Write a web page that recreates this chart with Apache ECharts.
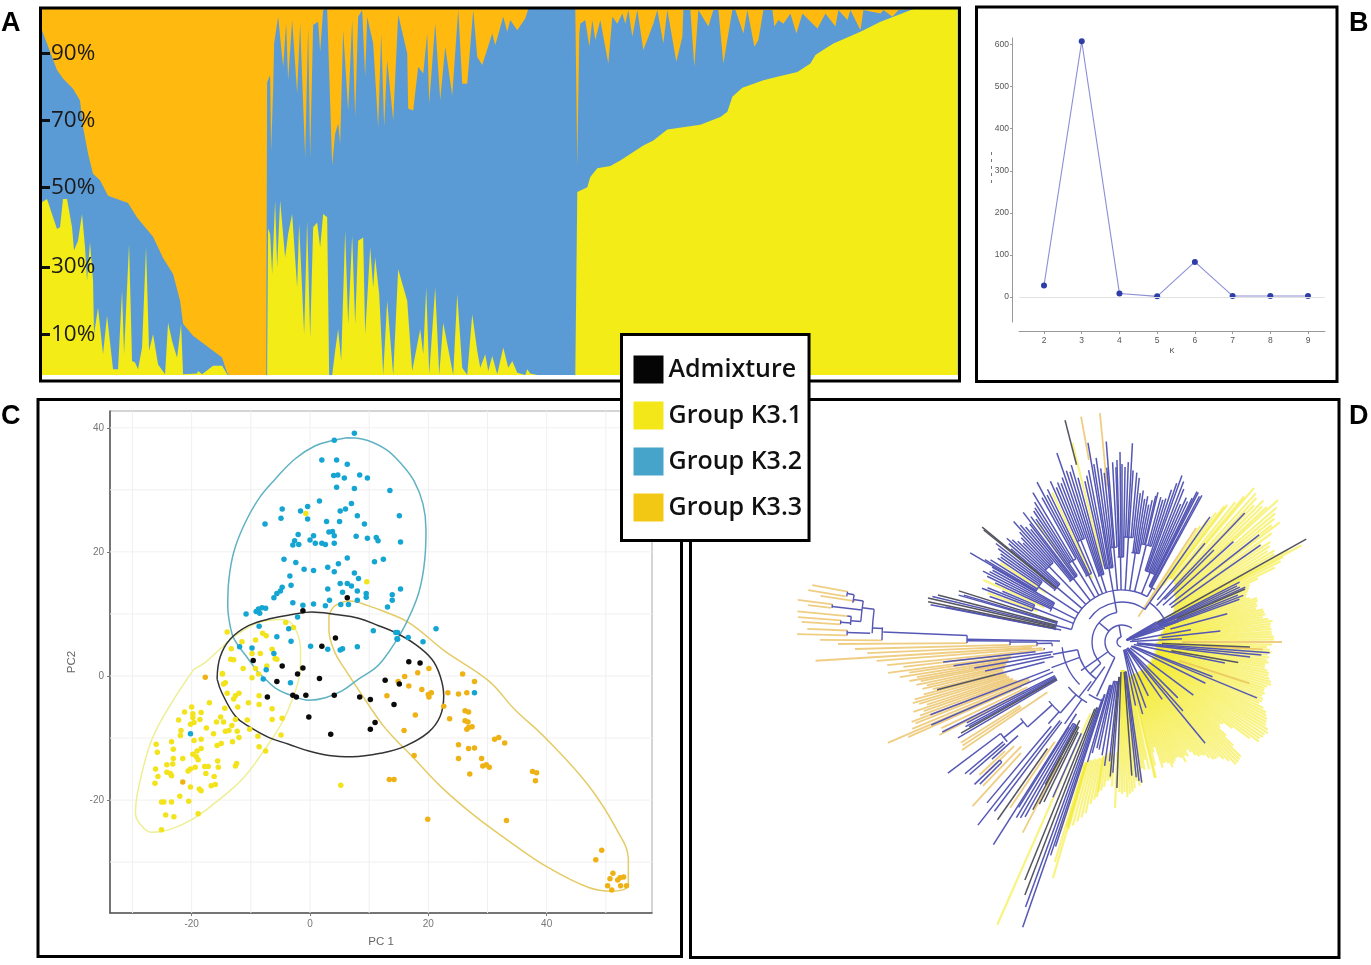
<!DOCTYPE html>
<html><head><meta charset="utf-8">
<style>html,body{margin:0;padding:0;background:#fff}#c{width:1371px;height:965px}</style>
<script src="https://cdn.jsdelivr.net/npm/echarts@6/dist/echarts.min.js"></script>
</head><body><div id="c"></div>
<script>
// ---------- Panel A: admixture proportions (sample rank, cumulative %)
const admixTickValues=[11,29.5,51.3,69.6,87.9];
const admixTickLabels=['10%','30%','50%','70%','90%'];
const k31Top=[[0,47.2],[5,48.1],[10,44],[15,39.9],[18,40.4],[21,48.1],[25,48.1],[30,40.4],[32,34],[36,36.7],[40,44],[43,34.9],[45,25.8],[48,36.3],[51,25.8],[52,11.1],[56,18.4],[61,5.7],[65,16.2],[71,1.6],[76,1.6],[80,23],[82,5.7],[87,35.8],[90,3.8],[93,3.4],[96,1.6],[100,7.5],[104,34.9],[107,6.6],[111,11.1],[116,2.9],[123,0.2],[126,14.3],[130,9.3],[135,4.7],[139,13.9],[141,0.2],[155,0.4],[156,1.1],[160,0.2],[171,2.5],[180,2.5],[185,0.2],[188,0],[225,0],[226,40],[228,38.5],[230,27.6],[233,47.7],[235,29.4],[238,47.7],[243,32.1],[246,38.5],[250,44],[255,23.9],[257,41.3],[262,11.1],[265,42.2],[268,10.2],[271,40.4],[275,41.7],[278,34.9],[281,44],[285,43.1],[287,0],[290,0],[293,6.6],[296,12.5],[299,3.8],[303,39.5],[306,13.9],[310,38.1],[313,13.9],[316,36.7],[321,37.6],[323,11.1],[328,34.9],[331,23.9],[333,32.1],[337,22.1],[341,0],[345,20.3],[351,0],[356,28.9],[365,20.3],[370,1.1],[378,12.5],[381,5.7],[384,23.9],[387,0.2],[393,23.9],[397,0],[401,14.3],[411,0],[415,22.1],[420,2],[425,0],[430,16.6],[435,6.6],[438,2],[443,5.7],[446,1.1],[450,5.2],[455,0.2],[461,7.5],[466,2],[470,3.8],[475,0.6],[483,0],[485,1.6],[488,0.4],[495,0],[533,0],[534,0],[535,50],[545,51.3],[548,54.1],[555,56.5],[568,57.1],[578,58.6],[591,60.9],[601,62.7],[611,64.1],[625,67.1],[658,68.4],[678,70.5],[685,71.9],[690,76],[700,78.5],[721,80.5],[735,81.5],[755,82.8],[768,85.1],[773,87.4],[783,89.2],[791,90.6],[818,93.8],[838,96.5],[851,97.9],[871,100],[915,100]];
const k32Top=[[0,94.2],[5,90.6],[15,83.3],[21,81],[31,78.2],[38,75],[41,67.8],[46,60.5],[51,55],[58,53.2],[66,49],[86,47],[95,43],[111,37.8],[121,32],[131,27.6],[138,20.3],[141,14],[151,10.7],[171,6.6],[180,4.8],[185,0.6],[188,0],[224,0],[225,80],[228,82],[229,61],[231,78],[232,90.6],[236,97.9],[241,84.2],[244,96],[246,80.5],[250,97],[255,76.9],[258,96],[263,59.5],[266,95.2],[268,59.5],[271,95.6],[276,96.5],[278,88.3],[281,99.7],[285,100],[290,57.3],[293,65.9],[296,68.7],[298,63.2],[301,94.2],[306,72.3],[310,97],[313,70.5],[316,97.9],[320,99.7],[323,81.5],[325,97.9],[331,90.6],[336,67.8],[339,93.3],[342,67.8],[345,86],[351,69.6],[356,98.4],[365,87.9],[366,72.8],[371,72.3],[376,84.2],[381,82.4],[385,93.3],[387,74.2],[393,96.1],[398,75.1],[403,89.7],[410,76.4],[416,99.7],[420,79.6],[425,79.6],[431,99.7],[435,86.9],[440,84.7],[450,93.3],[453,90.1],[461,97.9],[465,93.8],[468,97],[475,94.2],[483,97.4],[486,100],[533,100],[535,56.8],[537,93.3],[538,96],[543,97],[547,89.7],[550,97],[553,91.5],[558,97],[566,85.1],[570,97.9],[575,96],[580,98.8],[583,96],[586,99.7],[590,92.4],[595,99.7],[601,88.8],[611,96],[615,99.7],[621,90.6],[625,99.7],[634,85.6],[640,92.4],[641,99.7],[648,99.7],[652,84.2],[656,99.7],[666,95.2],[671,99.7],[676,99.7],[681,85.1],[686,93.3],[690,99.7],[693,99.7],[701,93.3],[705,99.7],[712,89.7],[716,91.5],[721,99.7],[730,99.7],[732,95.2],[736,97],[741,96],[748,98.8],[754,93.3],[760,98.8],[775,94.7],[783,98.8],[793,95.2],[796,99.7],[805,97],[808,99.7],[818,94.2],[821,99.7],[838,98.8],[841,99.7],[850,97.9],[856,99.7],[871,100],[915,100]];
const k33Top=[[0,100],[915,100]];

// ---------- Panel B: delta K
const kValues=[2,3,4,5,6,7,8,9];
const deltaK=[27,608,8,1,83,2,2,2];
const deltaKTicks=[0,100,200,300,400,500,600];

// ---------- Panel C: PCA
const pcTicksX=[-20,0,20,40];
const pcTicksY=[-20,0,20,40];
const pcGridX=[-30,-20,-10,0,10,20,30,40,50];
const pcGridY=[-30,-20,-10,0,10,20,30,40];
const pcBlue=[[7.5,39.1],[4.1,38],[2,34.8],[4.5,34.8],[6.3,34.1],[4,32.3],[4.7,32.4],[5.8,31.9],[8.4,32.4],[9.7,31.9],[4.5,30.4],[7.5,30.2],[13.5,29.9],[1.6,28.2],[7,27.8],[-4.7,26.9],[-1.6,26.6],[-0.4,27.3],[5.1,26.6],[6,26.9],[8,25.8],[15.1,25.8],[-4.9,25.4],[-0.4,25.3],[2.8,24.9],[5,24.9],[9.2,24.5],[-7.6,24.5],[-2,22.8],[3.2,23.2],[3.8,23.3],[4.1,22.6],[7.8,22.5],[9.7,22.2],[11.2,22.3],[11.5,21.8],[15.3,21.6],[-2.6,21.8],[-1.9,21.2],[-2.9,21.1],[0.6,22.6],[0,21.9],[0.9,21.4],[2,21.4],[2.6,21.2],[4.1,21.4],[-4.4,18.8],[-2.4,18.3],[6.3,19],[4.8,18.1],[3,17.5],[10.9,18.4],[12.4,18.8],[-1,17.2],[0.6,17],[4.1,16.8],[7.5,16.6],[-3.4,16.1],[8.2,15.7],[-3.2,14.6],[5.1,14.9],[6.3,14.9],[7,14.5],[3,14],[15.3,14],[-4.7,14.3],[-5,13.7],[-5.6,13.3],[5.5,13.5],[8,13.7],[9.5,13.3],[13.9,13.1],[-6.1,12.6],[9.5,12.7],[3.3,12.2],[8,12.2],[13.9,12.2],[-2.9,11.8],[0.6,11.6],[-1.2,11.4],[2.6,11.3],[5.2,11.5],[6.5,11.5],[13.1,11.1],[-10.8,10],[-8.7,10.8],[-8.1,11],[-7.5,10.9],[-9.1,10.4],[-8.5,10.1],[-2.1,9.5],[-8.6,8],[-3.6,7.6],[10.7,7.3],[14.5,7],[14.7,6],[-5.6,6.3],[-3.2,5.6],[0.1,4.8],[3,4.3],[5.1,4.2],[5.5,4.4],[8,4.7],[-9.8,4.5],[-11.9,4.7],[-6.1,3.6],[-7.4,1],[-7.9,-0.5],[-3.3,-1.1],[-20.2,-9.3],[14.8,7],[14.8,5.9],[16.6,6.2],[19.1,5.5],[21.3,7.6],[27.8,-2.7]];
const pcBlack=[[6.3,12.6],[-1.2,10.5],[4.3,6.1],[2,4.8],[-9.6,2.5],[-4.7,1.6],[-1.2,1.3],[-2.1,0.3],[1.6,-0.4],[-5.6,-0.9],[12.7,-0.7],[15.1,-1.3],[-2.9,-3.1],[-2.3,-3.4],[-0.7,-3.1],[4.1,-3.1],[-7.2,-3.4],[8.4,-3.4],[10.2,-3.8],[14.2,-4.6],[-0.2,-6.6],[11,-7.5],[10.2,-8.6],[3.5,-9.4],[16.7,2.3],[18.6,2.1]];
const pcAmber=[[20.1,1.2],[18.2,0.5],[16,-0.1],[25.8,0.3],[27.8,-0.9],[14.9,-0.9],[16.7,-1.6],[18.9,-2.2],[23.3,-2.7],[25.1,-2.9],[26.5,-2.7],[20,-3],[20.5,-2.7],[20.1,-3.4],[13,-3.2],[22.6,-4.9],[26.2,-5.6],[26.8,-5.8],[17.8,-6.3],[23.6,-6.9],[26.2,-7.2],[26.7,-7.4],[27.4,-8.2],[26.8,-8.3],[26.5,-8.6],[15.9,-8.8],[31.2,-10.2],[31.9,-9.9],[32.9,-10.8],[25.1,-11.1],[26.8,-11.7],[27.8,-11.6],[17.6,-12.8],[25.1,-13.3],[29,-13.3],[29.2,-14.5],[29.8,-14.3],[30.3,-14.7],[27,-15.8],[37.6,-15.4],[38.3,-15.6],[38.1,-16.9],[13.4,-16.7],[14.2,-16.7],[19.9,-23.1],[33.2,-23.3],[49.3,-28.1],[48.3,-29.6],[51.2,-31.8],[50.7,-32.7],[52,-32.9],[52.4,-32.5],[53,-32.4],[50.3,-33.8],[51,-34.5],[52.5,-33.8],[53.5,-33.8],[-17.7,-0.2],[-21.5,-17.1]];
const pcYellow=[[-14.8,0.4],[-14.3,-1.1],[-14.6,-1.3],[-14,-2.8],[-12,-2.8],[-12.6,-3.2],[-12.9,-3.7],[-10.4,-4.3],[-8.6,-3.2],[-8.6,-4.6],[-17,-4.3],[-12.2,-5],[-6.4,-5.3],[-20,-5],[-21.2,-5.8],[-19.8,-6.1],[-18.4,-5.9],[-14.4,-5.2],[-22.2,-7.1],[-19.8,-6.7],[-18.6,-7],[-15.1,-6.6],[-15.8,-7.4],[-14.6,-7.4],[-12.6,-7],[-10.6,-7.1],[-6.4,-7],[-4.7,-6.8],[-20.2,-7.8],[-19.6,-7.5],[-17.5,-8.4],[-13.2,-8],[-13.7,-8.8],[-14.3,-8.9],[-12.3,-8.9],[-10.2,-8.6],[-21.8,-8.8],[-21.9,-9.6],[-16.3,-9.3],[-12,-9.9],[-8.8,-9.7],[-4.9,-9.5],[-26,-11],[-23.4,-10.6],[-19.6,-10.4],[-18.4,-10.2],[-13.1,-10.6],[-15,-10.9],[-15.7,-11.2],[-8.6,-11.4],[-7.5,-12.1],[-25.8,-12.3],[-23.1,-11.8],[-18.4,-11.7],[-19.1,-12.1],[-19.8,-12.6],[-19.2,-13],[-23.1,-13.3],[-21.5,-13.3],[-18.9,-13.5],[-15.6,-13.7],[-12.4,-14.1],[-12.6,-14.5],[-24.2,-14.3],[-23.2,-14.2],[-20.2,-15],[-20.6,-15.3],[-19.4,-14.7],[-17.8,-14.6],[-17.2,-14.6],[-15.5,-14.7],[-26.1,-15],[-24.2,-15.5],[-23.6,-15.7],[-17.6,-15.7],[-25.7,-16.2],[-23.4,-16.1],[-16.2,-16.2],[-26.2,-17.3],[-16,-17.5],[-16.7,-17.7],[-20.2,-17.9],[-18.7,-18.2],[-18.4,-18.5],[-22,-19.4],[-25.1,-20.3],[-24.7,-20.3],[-23.4,-20.3],[-20.5,-20.2],[-24.4,-22.4],[-23,-22.7],[-18.9,-22.2],[-25.1,-24.8],[5.2,-17.6],[-0.7,26.2],[9.6,15.2],[-4.1,8.6],[-2.8,7.8],[-8,6.9],[-7.4,6.5],[-14,7.1],[-11.5,5.5],[-9.2,5.8],[-6.4,4.3],[-13.3,4.4],[-13.4,2.7],[-12.9,2.6],[-9.8,3.6],[-8.4,3.6],[-5.9,2.8],[-5.6,2.7],[-11.3,1.2],[-9.2,1.2],[-7.3,1.6],[-14.8,0.3],[-8.7,0.3],[-9.8,-0.3]];
const ringBlue=[[6.25,38.4],[8.8,38.2],[12.7,36.6],[15.5,34.1],[17.6,31.4],[19.1,27.7],[19.6,23.7],[19.4,18.8],[18.4,13.5],[16.4,8.8],[14.4,5.4],[12.2,2.4],[10.8,1.1],[8.2,-0.5],[5.4,-2.4],[2.6,-3.5],[-0.2,-3.9],[-3,-3.2],[-5.9,-1.9],[-8.1,0],[-8.7,0.5],[-10.4,2.7],[-12.8,5.9],[-13.5,8.1],[-13.9,11.3],[-13.7,15.6],[-12.9,19.9],[-11.2,24.2],[-8.7,28.5],[-5.9,31.7],[-2.5,35],[0.9,37.1],[4.1,38],[6.25,38.4]];
const ringBlack=[[-15.7,-0.5],[-15.2,3],[-13.5,5.9],[-10.4,8.1],[-6.4,9.3],[-3,9.9],[0.3,10.3],[4.3,9.9],[8.2,9.3],[11.6,8.1],[14.4,7],[17.8,5.1],[20.6,2.7],[22,0],[22.6,-3.2],[22,-6.5],[20,-9.1],[16.1,-11.3],[12.2,-12.4],[7.1,-13],[3.2,-12.8],[-0.2,-12.1],[-3.6,-11],[-7,-9.9],[-10.4,-8.1],[-12.6,-6.5],[-14.9,-2.7],[-15.7,-0.5]];
const ringYellow=[[-19.6,1.1],[-17.7,2.2],[-14,5.4],[-12.6,6.5],[-8.7,8.6],[-4.7,9.1],[-2.8,8.1],[-1.6,4.3],[-1.6,2.2],[-1.9,-0.5],[-3,-3.8],[-4.7,-7.5],[-7.6,-11.8],[-11.5,-16.7],[-16,-20.4],[-19.9,-23.1],[-23.9,-24.8],[-26.7,-25.2],[-28.7,-23.9],[-29.5,-22],[-28.9,-17.7],[-26.7,-10.2],[-23.3,-4.2],[-19.6,1.1]];
const ringAmber=[[3.2,9.7],[4.2,11.3],[6.8,12.1],[9.9,11.3],[12.2,10.5],[16.7,8.6],[22.8,4],[30.2,-0.8],[34.6,-5.4],[39.7,-9.9],[47.1,-17.7],[52.1,-25.2],[53.8,-29.6],[53.8,-33.6],[51,-34.7],[47.1,-34.1],[40.3,-30.9],[33.6,-26.6],[27.9,-22.6],[22.3,-18],[17.2,-12.9],[14.4,-10.2],[12.2,-7.8],[9.3,-3.8],[5.9,1.1],[4.2,3.8],[3.2,7.5],[3.2,9.7]];

// ---------- Panel D: tree, branches as [angle, inner radius, outer radius]
const treeYellow=[[1,38,152],[2,36,152],[3,40,150],[4,36,150],[5,38,150],[6,36,149],[7,38,150],[8,40,152],[9,38,148],[10,40,143],[11,40,146],[12,42,145],[13,40,145],[14,44,138],[15,42,140],[16,44,140],[17,44,142],[18,46,142],[19,44,135],[20,48,132],[21,46,134],[22,48,136],[23,48,138],[24,50,140],[25,55,150],[26,55,170],[27,55,178],[27.8,55,182],[28.3,55,204],[29,58,190],[30,60,176],[31,60,178],[32,62,172],[33,62,176],[34,62,179],[35,65,170],[36,65,185],[37.2,65,198],[38,68,190],[39,68,196],[40,70,200],[41,70,205],[42.3,70,211],[43,72,198],[44,72,195],[45,75,200],[46,75,190],[47,78,197],[48,78,200],[49.4,80,203],[50,80,190],[51,80,180],[52.5,80,173],[53,78,170],[54,70,160],[55,60,150],[56,50,140],
[359,36,150],[358,34,145],[357,36,148],[356,34,150],[355,36,146],[354,36,148],[353,34,146],[352,36,148],[351,34,145],[350,36,145],[349,36,148],[348,34,150],[347,36,150],[346,36,152],[345,34,154],[344,36,155],[343,36,152],[342,34,150],[341,36,150],[340,36,152],[339,36,150],[338,36,152],[337,36,152],[336,34,150],[335,36,156],[334,36,160],[333,34,162],[332,36,164],[331,36,165],[330,34,166],[329,36,170],[328,34,172],[327,36,170],[326,36,170],[325,36,168],[324,34,169],[323,36,160],[322,36,140],[321,34,130],[320,36,128],[319,34,130],[318,36,140],[317,36,152],[316,34,165],[315,36,166],[314,36,167],[313,34,167],[312,36,160],[311,34,155],[310,36,150],[309,34,150],[308,36,149],[307,36,145],[306,34,140],[305,36,138],[304,34,138],[303,36,135],[302,34,130],[301,34,126],[300,36,132],[299,34,130],[298,36,136],[297,34,130],[296,36,128],[295,34,128],[294,34,130],[293,36,132],[292,34,135],[291,34,130],[290,36,128],[289,34,128],[288,34,132],[287,36,110],[286,34,115],[285,36,128],[284,36,140],[283.6,36,140],[282,34,130],[281,36,120],[280,34,130],[279,34,128],[278,30,142],[277,30,145],[276,30,140],[275,28,147],[274,28,150],[273,28,152],[272,30,155],[271,28,150],[270,28,152],[269,28,150],
[267.6,110,166],[266,112,145],[265,112,138],[264,110,140],[263,112,146],[262,115,150],[261,115,152],[260.8,116,157],[260,118,160],[259,118,165],[258,120,175],[257,120,180],[256,122,185],[255,122,190],[254,125,195],[253.7,125,246],[253.4,126,193],[253,126,230],[252,128,200],
[246.2,78,309],[104,78,205],[115,70,165],[125.5,80,146],[147,90,145],[155.9,85,152],[160,90,143]];
const treeOrange=[[169.6,279,315],[170.6,280,318],[171.3,270,305],[172.6,292,327],[173.3,293,316],[174.6,276,326],[175.6,282,325],[176.4,282,321],[177.6,275,315],[178.6,275,325],[179.6,240,302],
[180.4,155,284],[181.5,112,267],[182.5,85,255],[183.5,90,307],[184.4,80,246],[185.6,78,236],[186.5,110,220],[187.5,112,236],[188.2,112,215],[189,115,225],[189.7,115,208],[190.4,118,216],[191,118,205],[191.8,120,210],[192.5,120,200],[193.2,122,205],[194,122,195],[194.8,122,205],[195.5,120,215],[196.3,120,218],[197,118,212],[197.8,118,205],[198.5,115,220],[199.2,115,210],[200,112,215],[200.8,110,225],[201.5,100,222],[202.5,100,227],[203.3,100,255],[204,110,234],[205.5,105,200],[207,110,205],[212,120,190],[213,120,190],[214,90,193],
[223,160,195],[224,150,190],[226,145,200],[227.7,150,222],[236,120,200],[242.5,130,215],[100.3,185,229],[95.5,157,230],[57,30,136],[0,60,160],[342,60,134],[357,80,141]];
const treeBlue=[[61.4,62,167],[62,62,165],[63,62,168],[63.5,62,168],[64,62,160],[65,75,155],[66,75,158],[67,75,150],[68,75,165],[69,75,172],[70.2,75,177],[71,75,168],[72,75,160],[73,100,150],[74,100,148],[75,100,150],[76.5,100,154],[77,100,150],[78,100,145],[79,90,140],[80,90,148],[81,90,145],[82,90,153],[83,90,150],[84,105,165],[85,105,170],[86.3,105,172],[87,105,199],[88,105,180],[89,85,175],[90,85,178],[90.6,85,190],[91.6,85,182],[92,85,175],[93,95,180],[94.5,95,201],[95,95,175],[96,95,170],[97,75,175],[98,75,186],[99,75,180],[99.7,75,202],[101,75,175],[102,75,170],[103,75,165],[105,70,170],[106,70,184],[107,70,178],[108,70,180],[109,70,200],[110,110,175],[111,110,170],[112,110,172],[113,110,168],[114,75,176],[116,75,170],[117,75,165],[118,75,181],[119,95,165],[120.8,95,174],[122,95,165],[123,95,160],[124,80,158],[125,80,150],[126,80,155],[127.3,80,163],[128,80,150],[129,80,145],[130,80,150],[131,105,155],[132,105,162],[133,105,150],[134,105,145],[135,105,140],[136,105,145],[137,85,150],[138,85,155],[139,85,150],[140,85,145],[142,85,160],[143,100,155],[144,100,150],[145,100,148],[146,100,150],[148,100,155],[149,100,160],[149.6,100,176],[150,78,150],[151,78,148],[152,78,150],[153,78,156],[154,78,150],[155,78,140],[157,95,130],[158,95,145],[159,95,150],[161,95,140],[164,68,170],[163.5,68,165],[166.5,68,195],[169,68,195],[168.8,62,180],
[61,52,62],[68,52,75],[76,52,100],[81.5,52,90],[86.5,52,105],[91,52,85],[95,52,95],[100,52,75],[107.5,52,70],[112,52,110],[116.5,52,75],[121.5,52,95],[127.5,52,80],[134,52,105],[140,52,85],[146.5,52,100],[153.5,52,78],[159,52,95],[166,52,68],[100,30,52],[140,17,30],[100,5,17],
[35,60,169],[38,60,174],[46.4,50,178],[54.9,40,153],[50,55,129],[45,60,130],[42,55,150],[15,50,109],[6.4,40,99],[27,40,132],[26,45,128],[25,40,130],[24,40,135],[22,40,125],[21,45,130],[20,45,125],[18,5,45],[20,5,60],[22,5,50],[24,5,65],[26,5,60],[28,5,48],[30,8,40],[10,10,70],[3,8,60],
[355.8,15,148],[354.7,15,140],[353.3,15,129],[348.5,12,105],[339,12,97],[337.5,10,146],[333.7,10,93],[323.3,10,89],[315,8,79],[311.5,8,92],[309.4,8,131],[305,8,70],[296,8,60],[290,8,70],[286,8,75],[282,8,65],
[278,30,142],[277,30,140],[276,30,136],[266,35,131],[264,40,120],[262,40,125],[260,40,115],[258,40,110],[256.7,45,109],[255,45,115],[254,45,125],[252,55,215],[251.5,55,225],[250.8,60,302],[250,70,282],[246,100,170],[241,95,200],[240,95,203],[239,95,205],[238,100,195],[237.6,85,240],[233,100,212],[231.8,100,233],[230,110,210],[225,170,201],[224,170,205],[222,140,175],[221,155,202],[220,155,205],[217,152,218],
[186.4,87,180],[188,70,170],[190,72,150],[192,70,140],[194.5,80,130],[200.8,77,205],[203.5,75,208],[206.6,75,201],[208.4,75,178],[207.5,75,175],[209,75,175],[210.3,75,190],
[177.6,155,239],[179,62,155],[179.5,112,155],[180,85,112],[181,70,85],[176.8,240,250],[178,252,275],[172.5,250,262],[171,262,272],[170,272,279],[175.5,262,272],[176,272,282],[174.6,272,276],[173,262,292],[232,50,70],[229,70,94],[222,94,127],[219,127,152],[245,17,60],[235,30,60],[225,30,45],[215,17,50],[200,45,75],[190,45,70],[228,94,110],[235,70,100]];
const treeDark=[[104.4,183,229],[140.6,85,181],[141,85,178],[162.6,68,171],[165.7,68,190],[167.2,68,199],[168.3,68,198],[194.5,130,191],[209.5,75,185],[235,130,217],[244,100,178],[243,95,182],[242,95,190],[241.7,89,162],[249,70,271],[247.8,72,257],[265,35,135],[268,30,146],[274.2,30,134],[357.8,40,128],[350,50,118],[23.3,60,134],[29.2,40,211]];
const treeArcs=[[58,64,62],[64,72,75],[73,79,100],[79,84,90],[84,89,105],[89,93,85],[93,97,95],[97,103,75],[105,110,70],[110,114,110],[114,119,75],[119,124,95],[124,131,80],[131,137,105],[137,143,85],[143,150,100],[150,157,78],[157,161,95],[162,170,68],[61,166,52],[54,145,40],[100,225,30],[55,245,17],[100,260,5],[176.5,179.6,240],[172.5,178,250],[171,175.5,262],[170,171.7,272],[174.6,176.4,272],[175.6,176.4,282],[177.6,178.6,275],[169.6,170.6,279],[172.6,173.3,292],[177.6,180.4,155],[179,181.5,112],[180,182.5,85],[181,183.5,70],[184.4,185.6,78],[190,235,45],[185,225,60],[219,229,94],[217,222,127],[217,221,152],[224,225,170],[25,55,48],[237.6,250.8,62],[239,241,95],[254,256.7,45],[258,264,40],[276,278,30],[220,240,70]];

// ---------- Legend and labels
const legendNames=['Admixture','Group K3.1','Group K3.2','Group K3.3'];
const legendColors=['#050505','#f3e71a','#46a3c9','#f2c814'];
const panelLabels=[['A',1,10],['B',1349,10],['C',1,403],['D',1349,403]];

function leafSeries(data,color,width){
  return {type:'custom',coordinateSystem:'polar',data:data,silent:true,clip:false,
    encode:{angle:0,radius:2},
    renderItem(p,api){
      const a=api.coord([api.value(1),api.value(0)]),b=api.coord([api.value(2),api.value(0)]);
      return {type:'line',shape:{x1:a[0],y1:a[1],x2:b[0],y2:b[1]},style:{stroke:color,lineWidth:width,fill:null}};
    }};
}
function ring(data,color){
  return {type:'line',xAxisIndex:2,yAxisIndex:2,data:data,symbol:'none',smooth:0.4,silent:true,z:3,
    lineStyle:{color:color,width:1.5}};
}
function dots(name,data,color,z){
  return {name:name,type:'scatter',xAxisIndex:2,yAxisIndex:2,data:data,symbolSize:5.5,z:z,silent:true,
    itemStyle:{color:color,opacity:1}};
}
function area(data,color){
  return {type:'line',xAxisIndex:0,yAxisIndex:0,data:data,symbol:'none',silent:true,
    lineStyle:{width:0},areaStyle:{color:color,opacity:1},itemStyle:{color:color}};
}
const pcGridData=pcGridX.map(v=>[v,0,0]).concat(pcGridY.map(v=>[0,v,1]));

const option={
  animation:false,backgroundColor:'#fff',
  textStyle:{fontFamily:'"Liberation Sans",Arial,sans-serif'},
  grid:[
    {left:42,top:9,width:915.5,height:366},
    {left:1019,top:38,width:306,height:284},
    {left:110,top:411,width:542,height:502,show:true,borderColor:'#aaa',borderWidth:1,backgroundColor:'#fff'}
  ],
  xAxis:[
    {gridIndex:0,type:'value',min:0,max:915,show:false},
    {gridIndex:1,type:'value',min:1.337,max:9.45,offset:9,
      axisLine:{show:true,onZero:false,lineStyle:{color:'#999'}},
      axisTick:{show:true,length:3,customValues:kValues,lineStyle:{color:'#999'}},
      axisLabel:{customValues:kValues,color:'#555',fontSize:8.5,margin:5},splitLine:{show:false},
      name:'K',nameLocation:'middle',nameGap:16,nameTextStyle:{color:'#444',fontSize:7.5}},
    {gridIndex:2,type:'value',min:-33.8,max:57.8,
      axisLine:{show:true,onZero:false,lineStyle:{color:'#555',width:1.5}},
      axisTick:{show:true,length:3,customValues:pcTicksX,lineStyle:{color:'#777'}},
      axisLabel:{customValues:pcTicksX,color:'#777',fontSize:10,margin:6},splitLine:{show:false},
      name:'PC 1',nameLocation:'middle',nameGap:23,nameTextStyle:{color:'#666',fontSize:11.5}}
  ],
  yAxis:[
    {gridIndex:0,type:'value',min:0,max:100,z:10,
      axisLine:{show:false},
      axisTick:{show:true,inside:true,length:8,customValues:admixTickValues,lineStyle:{color:'#111',width:3}},
      axisLabel:{inside:true,margin:9,customValues:admixTickValues,color:'#1a1a1a',fontSize:22.5,fontFamily:'"Open Sans",sans-serif',
        formatter:v=>admixTickLabels[admixTickValues.indexOf(v)]||''},
      splitLine:{show:false}},
    {gridIndex:1,type:'value',min:-60,max:616,offset:7,
      axisLine:{show:true,onZero:false,lineStyle:{color:'#999'}},
      axisTick:{show:true,length:2,customValues:deltaKTicks,lineStyle:{color:'#999'}},
      axisLabel:{customValues:deltaKTicks,color:'#555',fontSize:8.5,margin:3},splitLine:{show:false}},
    {gridIndex:2,type:'value',min:-38.2,max:42.7,
      axisLine:{show:true,onZero:false,lineStyle:{color:'#555',width:1.5}},
      axisTick:{show:true,length:3,customValues:pcTicksY,lineStyle:{color:'#777'}},
      axisLabel:{customValues:pcTicksY,color:'#777',fontSize:10,margin:6},splitLine:{show:false},
      name:'PC2',nameLocation:'middle',nameGap:32,nameRotate:90,nameTextStyle:{color:'#666',fontSize:11.5}}
  ],
  polar:{center:[1122,642],radius:340},
  angleAxis:{type:'value',min:0,max:360,startAngle:0,clockwise:false,show:false},
  radiusAxis:{type:'value',min:0,max:340,show:false},
  legend:{orient:'vertical',left:621.5,top:334.5,itemWidth:30,itemHeight:28,itemGap:18,itemTextGap:2,
    padding:[21,7,19,12],z:50,selectedMode:false,icon:'rect',align:'left',
    backgroundColor:'#fff',borderColor:'#000',borderWidth:3,
    textStyle:{fontFamily:'"Open Sans",sans-serif',fontWeight:600,fontSize:25,color:'#111'},
    data:legendNames.map((n,i)=>({name:n,icon:'rect',itemStyle:{color:legendColors[i],borderWidth:0,opacity:1}}))},
  series:[
    area(k33Top,'#ffb90f'),area(k32Top,'#5b9bd5'),area(k31Top,'#f3ec17'),
    {type:'line',xAxisIndex:1,yAxisIndex:1,data:kValues.map((k,i)=>[k,deltaK[i]]),symbol:'circle',symbolSize:6,silent:true,
      lineStyle:{color:'#8d8fd6',width:1.1},itemStyle:{color:'#2f3da6'},
      markLine:{silent:true,symbol:'none',label:{show:false},lineStyle:{color:'#e2e2e2',width:1,type:'solid'},data:[{yAxis:0}]}},
    {type:'custom',xAxisIndex:2,yAxisIndex:2,data:pcGridData,silent:true,z:1,encode:{x:0,y:1},
      renderItem(p,api){
        const c=p.coordSys,pt=api.coord([api.value(0),api.value(1)]);
        const vertical=api.value(2)===0;
        return {type:'line',shape:vertical?{x1:pt[0],y1:c.y,x2:pt[0],y2:c.y+c.height}:{x1:c.x,y1:pt[1],x2:c.x+c.width,y2:pt[1]},
          style:{stroke:'#f0f0f0',lineWidth:1,fill:null}};
      }},
    ring(ringYellow,'#eeee93'),ring(ringAmber,'#e4cb66'),ring(ringBlue,'#5fb2c2'),ring(ringBlack,'#333333'),
    dots('Group K3.1',pcYellow,'#f2e31b',4),dots('Group K3.3',pcAmber,'#efb215',4),
    dots('Group K3.2',pcBlue,'#14a5d2',5),dots('Admixture',pcBlack,'#0a0a0a',6),
    leafSeries(treeYellow,'rgba(243,234,30,0.55)',2.2),leafSeries(treeOrange,'rgba(233,190,90,0.75)',1.8),
    leafSeries(treeBlue,'#5557b4',1.5),leafSeries(treeDark,'#555560',1.5),
    {type:'custom',coordinateSystem:'polar',data:treeArcs,silent:true,clip:false,encode:{angle:0,radius:2},
      renderItem(p,api){
        const c=p.coordSys,pt=api.coord([api.value(2),api.value(0)]);
        const r=Math.hypot(pt[0]-c.cx,pt[1]-c.cy);
        return {type:'arc',shape:{cx:c.cx,cy:c.cy,r:r,startAngle:-api.value(1)*Math.PI/180,endAngle:-api.value(0)*Math.PI/180,clockwise:true},
          style:{stroke:'#5557b4',lineWidth:1.4,fill:null}};
      }}
  ],
  graphic:[
    {type:'rect',z:40,silent:true,shape:{x:40.5,y:8,width:919,height:373},style:{fill:'transparent',stroke:'#000',lineWidth:3}},
    {type:'rect',z:40,silent:true,shape:{x:976.5,y:7,width:360.5,height:374.5},style:{fill:'transparent',stroke:'#000',lineWidth:3}},
    {type:'rect',z:40,silent:true,shape:{x:38,y:399.5,width:643.5,height:557},style:{fill:'transparent',stroke:'#000',lineWidth:3}},
    {type:'rect',z:40,silent:true,shape:{x:690.5,y:399.5,width:648.5,height:558},style:{fill:'transparent',stroke:'#000',lineWidth:3}},
    {type:'line',z:40,silent:true,shape:{x1:991.5,y1:152,x2:991.5,y2:185},style:{stroke:'#777',lineWidth:1,lineDash:[3,4]}}
  ].concat(panelLabels.map(l=>({type:'text',z:60,silent:true,x:l[1],y:l[2],
    style:{text:l[0],fill:'#000',font:'bold 27px "Liberation Sans",Arial,sans-serif'}})))
};
const chart=echarts.init(document.getElementById('c'),null,{renderer:'canvas'});
chart.setOption(option);
</script></body></html>
